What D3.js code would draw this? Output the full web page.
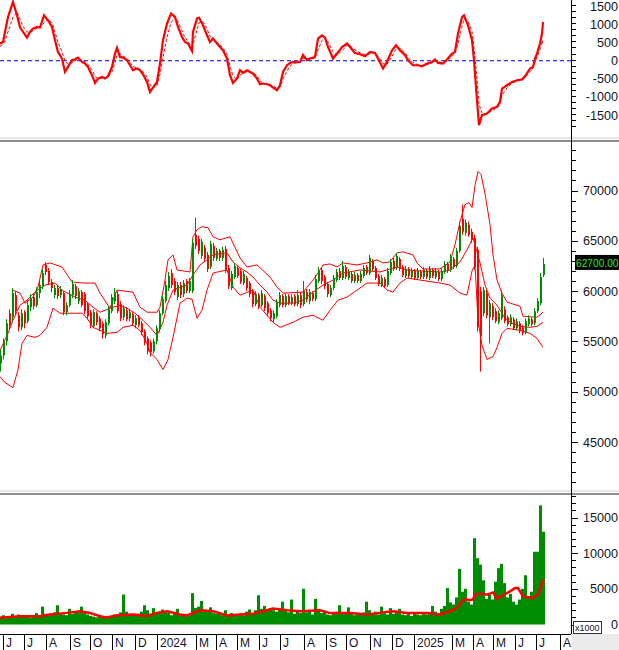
<!DOCTYPE html>
<html><head><meta charset="utf-8">
<script src="https://cdn.jsdelivr.net/npm/d3@7"></script>
<style>body{margin:0;background:#fff}svg{display:block;font-family:"Liberation Sans",Arial,sans-serif}</style>
</head><body><svg id="c" width="619" height="650"></svg>
<script>
// ---------- DATA ----------
const candleStep = 3; // trading-day slots per candle
const open = [
52800,53600,55000,57800,57400,59600,57600,56400,57900,57000,
58400,59400,58600,59800,60500,62600,62000,60900,59600,60300,
59600,59800,57900,58600,59600,60500,59000,59900,59700,58700,
57900,56500,57800,57300,56800,55600,56800,58000,59000,59700,
58700,57400,58100,57300,57700,56600,57400,56800,56000,55300,
54900,54000,55000,56200,57800,59000,60300,61800,61000,59400,
60600,59700,61000,60000,60000,65600,65200,63500,64300,63600,
62400,64500,63200,64000,63300,64200,62300,60300,61400,62300,
62000,60800,61300,60800,60000,58700,59600,58600,59500,58800,
58100,57200,57500,58600,59500,58600,59500,58800,59500,58700,
59600,58700,59900,59000,59800,59200,61000,62100,61400,60700,
59600,60300,61100,62000,61300,62400,61300,61700,61000,61600,
61000,61500,62400,61800,63000,62300,61500,60600,61200,60600,
61800,63000,62300,63200,62400,61500,62200,61400,62000,61300,
61900,61400,62000,61300,62100,61400,61900,61200,61900,62700,
62100,63200,62500,64000,67200,65800,66600,65900,65300,64100,
60000,57800,59800,57400,58500,58000,56900,57300,58200,57400,
56700,57200,56300,56800,56400,55900,56700,57200,56800,58000,58800,61600];
const high = [
54200,55300,57200,58200,60300,60000,57900,58200,58100,59100,
59700,59800,60400,61000,62200,62900,62300,61200,60600,60600,
60500,60000,58900,60100,61100,60700,60300,60100,59900,58900,
58100,58200,58000,57500,57000,57200,58500,59700,60300,60000,
59000,58600,58400,58200,57900,57600,57600,57000,56200,55500,
55100,55300,56600,58100,59600,61000,61900,62200,61300,60900,
60900,61100,61200,61300,65200,67300,65500,65200,64600,63900,
65000,64800,64300,64200,64400,64500,62600,62000,62800,62600,
62200,62000,61500,61000,60200,60000,59800,60100,59700,59000,
58300,58100,59200,59900,59700,59800,59700,59700,59700,60100,
59900,61000,60200,60200,60000,61600,62400,62400,61600,60900,
60600,61600,62200,62300,63000,62600,62200,61900,61900,61800,
62000,62600,62600,63600,63200,62500,61700,61600,61400,62300,
63200,63300,63800,63400,62600,62500,62400,62300,62200,62300,
62100,62400,62200,62500,62300,62300,62100,62300,63000,62900,
63700,63400,64300,66900,68600,67100,66900,66200,65600,64400,
60400,60400,60100,59100,58800,58300,58100,60100,58500,57600,
57700,57400,57300,57000,56600,57300,57600,57400,58300,59300,61800,63300];
const low = [
52000,53200,54600,56200,57000,57600,56000,56100,56300,56800,
58000,58200,58400,59300,60200,61600,60600,59900,59300,59200,
59300,57600,57600,58400,59300,59200,58700,58400,57700,57200,
56300,56300,56600,56000,55300,55300,56600,57800,58700,57800,
57000,57100,57000,57000,56600,56300,56400,55600,54600,53700,
53500,53800,54700,55900,57600,58800,60000,60300,59600,59100,
59300,59400,59800,59800,59800,64200,63700,63200,62900,61900,
62200,63000,63000,63000,63000,61800,60200,60100,61200,61300,
60700,60600,60000,59400,58400,58500,58200,58400,58000,57500,
57000,56900,57300,58400,58400,58400,58600,58600,58500,58500,
58300,58500,58900,58700,59000,59000,60800,60700,60200,59400,
59400,60100,60900,61100,61100,61200,61100,60800,60800,60800,
60800,61300,61600,61600,62000,61100,60500,60400,60300,60400,
61600,62000,62100,62000,61400,61300,61300,61200,61100,61100,
61200,61200,61200,61100,61300,61200,61000,61000,61700,61800,
61900,62200,62300,63800,65600,65500,65400,64800,62100,56000,
52000,57500,57300,54800,57100,56800,56700,57100,56800,56500,
56500,56100,56100,55800,55600,55700,56500,56500,56600,57800,58600,61400];
const close = [
53600,55000,56800,56600,59800,58000,56400,57800,56800,58600,
59300,58500,59900,60600,61800,61900,60900,60300,60300,59500,
60200,57900,58600,59700,60700,59500,60000,58600,58000,57500,
56600,57900,56900,56300,55700,56900,58200,59400,59900,58000,
57300,58300,57200,57900,56800,57300,56600,55900,54900,54000,
53900,55000,56300,57800,59200,60600,61500,60600,59900,60600,
59600,60800,60000,61000,64800,64500,64000,64900,63200,62200,
64700,63300,64000,63300,64100,62000,60500,61700,62500,61500,
60900,61700,60300,59700,58700,59700,58500,59800,58300,57800,
57300,57800,58900,59600,58600,59500,58800,59400,58700,59600,
58600,60000,59200,59900,59200,61200,62000,61000,60500,59700,
60300,61300,61900,61300,62500,61400,61900,61000,61600,61000,
61700,62300,61800,63300,62200,61300,60700,61300,60500,62000,
62900,62200,63500,62200,61600,62200,61500,62000,61300,62000,
61400,62100,61400,62200,61500,62000,61200,62000,62700,62000,
63300,62400,64000,66500,65900,66800,65600,65100,62400,56400,
55500,60100,57600,58800,57400,57000,57800,59600,57000,56700,
57400,56300,57000,56000,55800,57000,57300,56700,58000,59000,61400,62700];
const volume = [ // x1000
1100,1300,900,1200,1500,1000,1400,1200,1100,1300,
1000,1200,1600,1300,2500,1500,1200,1400,1700,2700,
1600,1400,1300,2200,1500,1700,1900,2500,1600,1400,
1200,1100,1000,1300,1100,1000,1200,1100,1400,1300,
1700,4200,1800,1400,1300,1200,1500,1800,2700,2000,
1500,2300,1600,1800,2100,1800,1600,1300,1500,2200,
1300,1200,1400,1300,4400,2300,2500,3300,2100,1900,
2400,1600,1500,1700,1300,2000,1400,1600,1200,1300,
1500,1300,1800,2100,1500,2000,4100,2200,2600,2000,
2300,2000,1800,2100,3200,1900,1700,3500,1500,1800,
1600,5000,1700,1900,1400,3600,2200,1600,1800,1400,
1300,1500,1800,2700,1700,1500,2400,1600,1300,1500,
1400,1700,3200,2000,1500,1800,1400,2500,1600,1400,
2300,1500,1700,2200,1400,1300,1600,1200,1500,1400,
1300,1600,1400,1700,2600,1800,1500,2200,2600,5100,
3100,2800,3800,7800,4600,5000,3200,2800,12100,9300,
8400,6200,3600,4200,3500,6000,7900,8500,5800,3800,
4300,3200,2800,3500,5000,6900,4000,4600,10200,10200,16700,13000];

const upDay = [13,20,25,33,38,43,50,62,72,85,95,100,110,117,133,140,147,157,160,165,168,173,177,190,193,197,202,208,213,220,230,240,247,257,270,277,283,303,313,318,323,330,337,343,357,367,377,383,390,397,403,413,417,423,440,450,455,460,465,469,472,475,478,481,485,490,493,497,502,507,520,523,537,543];
const upVal = [60100,59800,58800,59400,60400,62600,62800,62400,60900,60800,60800,59800,58300,60100,59900,58400,57900,57900,58400,61100,63100,63600,62100,61900,65400,66100,66400,66300,65400,65100,65400,63300,62400,62600,61400,60400,59800,59900,61100,61800,62600,62700,62400,62800,62600,62800,63100,62800,62900,63800,63900,63600,62800,62200,62200,62900,64600,66900,68600,68800,68300,70500,71900,71600,69700,66600,63600,61100,59800,58900,58500,57500,57400,57900];
const midDay = [0,8,13,20,27,35,45,55,62,75,85,93,100,110,120,127,135,143,150,157,163,167,173,180,187,193,200,207,213,227,233,240,247,253,260,267,273,280,293,303,313,323,333,343,360,380,397,407,420,440,450,460,467,473,477,480,485,490,497,505,512,520,530,537,543];
const midVal = [54100,55800,57100,58600,59100,59900,60600,60800,60100,59400,59100,58400,57900,58300,58600,58300,57800,57100,56400,55600,56900,58600,60100,60400,60600,61600,62600,63100,63600,63800,62900,62300,61900,61400,60600,59900,59100,58800,58800,59100,59900,60600,61100,61800,62100,61900,62400,62100,62000,61900,62100,62900,64100,65300,63900,62800,60600,59300,58600,57300,56800,56500,56400,56500,56900];
const lowDay = [0,5,13,18,22,27,35,40,47,53,60,82,87,93,100,107,117,123,133,140,147,150,157,163,168,173,180,187,192,197,202,207,213,227,233,240,253,260,267,273,280,293,303,313,323,330,338,347,357,367,380,387,393,400,407,420,440,450,460,467,472,475,478,482,487,493,497,502,507,520,530,537,543];
const lowVal = [51500,50900,50400,52200,54800,55600,55400,55600,56400,58300,57800,57800,57300,56400,56100,55800,55900,56400,56600,56100,54800,53900,53200,52200,53200,55400,58800,59300,59200,57300,58100,60100,61800,62100,60400,59600,60100,58400,57600,56900,56400,56900,57400,57600,57100,58100,59100,59400,60100,60800,60800,60100,59900,60800,61300,61100,60800,60600,59800,59600,62000,62600,57100,54600,53200,53500,54400,55800,56300,56100,55800,55300,54400];

const volMaDay = [0,20,40,50,67,80,90,100,107,117,133,147,157,167,180,187,200,213,227,240,253,263,273,287,300,320,330,350,367,383,393,407,427,440,450,457,462,465,470,473,475,482,487,493,497,503,510,515,518,523,533,538,542,544];
const volMaVal = [940,1160,1160,1400,1630,1860,1600,1160,1000,1300,1400,1200,1630,1860,1400,1260,2000,1860,1260,1400,1500,1860,2230,2000,1860,2000,1600,1600,1400,1700,1860,1600,1600,1400,1860,2330,3260,3570,3400,3500,4190,4330,4190,4500,3600,4100,4650,5100,5100,3950,3700,4190,5820,6280];

const macdDay = [0,3,5,8,13,17,20,23,27,30,33,37,40,44,48,52,55,58,62,65,68,72,75,78,82,85,88,92,95,98,102,105,108,112,115,117,120,123,127,130,133,137,140,143,147,150,153,157,160,163,167,171,175,178,182,185,188,192,193,197,199,203,207,210,213,217,220,223,227,230,233,237,240,243,247,250,253,257,260,263,267,270,273,277,280,283,287,290,293,297,300,303,307,310,315,318,322,325,328,333,337,342,347,350,355,360,365,370,375,378,383,387,392,396,400,405,408,413,418,422,427,432,435,438,443,447,452,455,458,462,464,468,472,474,477,479,482,487,492,497,500,502,507,512,517,522,525,530,533,535,537,540,542,543];
const macdVal = [475,520,795,1210,1625,1257,934,796,640,796,890,934,917,1257,1119,934,566,243,61,-309,-171,14,41,88,-33,-77,-171,-400,-613,-492,-448,-492,-428,-171,199,354,105,88,14,-124,-262,-215,-262,-373,-586,-862,-740,-586,-77,566,1028,1304,1210,934,657,519,475,271,796,1166,1193,981,704,519,613,475,381,290,61,-400,-613,-492,-262,-337,-262,-309,-354,-492,-649,-630,-649,-677,-740,-815,-677,-309,-124,-61,-33,-41,-33,160,14,61,105,613,704,640,381,61,199,381,475,381,215,180,124,243,215,61,-215,-33,290,428,290,152,14,-124,-124,-152,-77,-33,33,-61,-77,33,199,243,751,1210,1257,981,566,14,-1091,-1782,-1506,-1459,-1320,-1276,-1138,-768,-677,-586,-539,-519,-428,-215,-171,61,199,475,751,1072];
const signalVal = [400,450,550,800,1200,1350,1150,950,800,780,830,900,920,1050,1150,1050,800,500,250,0,-100,-60,0,50,20,-30,-100,-250,-430,-500,-480,-480,-450,-300,-50,150,200,130,60,-40,-160,-200,-240,-300,-450,-650,-760,-680,-380,100,650,1050,1200,1080,830,640,530,380,450,850,1050,1080,880,680,600,530,440,350,180,-150,-420,-520,-400,-350,-300,-300,-330,-420,-560,-620,-640,-660,-700,-760,-730,-500,-280,-150,-80,-50,-40,60,60,40,80,300,560,640,520,250,150,280,420,420,300,220,160,190,220,130,-80,-100,120,320,350,230,90,-50,-110,-140,-110,-60,0,-20,-60,-10,120,210,480,950,1150,1100,800,350,-500,-1200,-1450,-1470,-1380,-1300,-1200,-950,-750,-620,-560,-530,-470,-300,-200,-50,100,320,560,450];

const macdTicks = [1500,1000,500,0,-500,-1000,-1500];
const priceTicks = [70000,65000,60000,55000,50000,45000];
const volTicks = [15000,10000,5000,0];
const monthDay = [3,24,46,70,90,112,135,157,196,216,237,259,280,304,326,346,370,392,414,452,473,493,515,536,560];
const monthLabel = ["J","J","A","S","O","N","D","2024","M","A","M","J","J","A","S","O","N","D","2025","M","A","M","J","J","A"];
const lastPriceLabel = "62700.00";

// ---------- DRAW ----------
const svg = d3.select('#c');
const AX = 571;
const x = d3.scaleLinear().domain([0, 571]).range([0, 571]);
const yM = d3.scaleLinear().domain([-1500, 1500]).range([115, 6.5]);
const yP = d3.scaleLinear().domain([45000, 70000]).range([442, 190.5]);
const yV = d3.scaleLinear().domain([0, 15000]).range([624.5, 517.5]);
const GREEN = '#008c00', RED = '#ff0000';

const defs = svg.append('defs');
[['cm',0,0,AX,137],['cp',0,142,AX,348],['cv',0,495,AX,139]].forEach(([id,a,b,w,h])=>{
  defs.append('clipPath').attr('id',id).append('rect').attr('x',a).attr('y',b).attr('width',w).attr('height',h);
});

// separators
[[137,'#e6e6e6'],[140,'#8c8c8c'],[490,'#e6e6e6'],[493,'#8c8c8c']].forEach(([yy,c])=>{
  svg.append('rect').attr('x',0).attr('y',yy).attr('width',619).attr('height',2).attr('fill',c);
});

// ---- MACD panel ----
const gM = svg.append('g').attr('clip-path','url(#cm)');
gM.append('line').attr('x1',0).attr('x2',AX).attr('y1',yM(0)).attr('y2',yM(0))
  .attr('stroke','#0000ee').attr('stroke-width',1.2).attr('stroke-dasharray','4,3');
const lineM = d3.line().x((d,i)=>x(macdDay[i])).y(d=>yM(d));
gM.append('path').datum(signalVal).attr('d',lineM).attr('fill','none')
  .attr('stroke',RED).attr('stroke-width',1).attr('stroke-dasharray','3,2');
gM.append('path').datum(macdVal).attr('d',lineM).attr('fill','none')
  .attr('stroke',RED).attr('stroke-width',2.2);

// ---- Price panel ----
const gP = svg.append('g').attr('clip-path','url(#cp)');
function band(days, vals){
  gP.append('path').datum(vals).attr('d', d3.line().x((d,i)=>x(days[i])).y(d=>yP(d)))
    .attr('fill','none').attr('stroke',RED).attr('stroke-width',1);
}
band(upDay, upVal); band(midDay, midVal); band(lowDay, lowVal);
const cIdx = d3.range(close.length);
gP.selectAll('rect.w').data(cIdx).join('rect')
  .attr('x', i=>Math.round(x(i*candleStep))).attr('width',1)
  .attr('y', i=>yP(high[i])).attr('height', i=>Math.max(1, yP(low[i])-yP(high[i])))
  .attr('fill', i=>close[i]>=open[i]?GREEN:RED);
gP.selectAll('rect.b').data(cIdx).join('rect')
  .attr('x', i=>Math.round(x(i*candleStep))).attr('width',2)
  .attr('y', i=>yP(Math.max(open[i],close[i])))
  .attr('height', i=>Math.max(1, yP(Math.min(open[i],close[i]))-yP(Math.max(open[i],close[i]))))
  .attr('fill', i=>close[i]>=open[i]?GREEN:RED);

// ---- Volume panel ----
const gV = svg.append('g').attr('clip-path','url(#cv)');
gV.selectAll('rect').data(cIdx).join('rect')
  .attr('x', i=>Math.round(x(i*candleStep))-1).attr('width',3)
  .attr('y', i=>yV(volume[i])).attr('height', i=>yV(0)-yV(volume[i]))
  .attr('fill', GREEN);
gV.append('path').datum(volMaVal).attr('d', d3.line().x((d,i)=>x(volMaDay[i])).y(d=>yV(d)))
  .attr('fill','none').attr('stroke',RED).attr('stroke-width',2.5);

// ---- Right axis ----
svg.append('line').attr('x1',AX+0.5).attr('x2',AX+0.5).attr('y1',0).attr('y2',634).attr('stroke','#000');
const tk = svg.append('g').attr('stroke','#000').attr('stroke-width',1);
d3.range(-1800, 1801, 500/3).forEach(v=>{ const yy=Math.round(yM(v))+0.5; if(yy>0&&yy<136) tk.append('line').attr('x1',AX).attr('x2',AX+5).attr('y1',yy).attr('y2',yy); });
d3.range(41000, 76000, 1000).forEach(v=>{ const yy=Math.round(yP(v))+0.5; if(yy>143&&yy<489) tk.append('line').attr('x1',AX).attr('x2',AX+(v%5000===0?7:5)).attr('y1',yy).attr('y2',yy); });
d3.range(0, 18001, 1000).forEach(v=>{ const yy=Math.round(yV(v))+0.5; if(yy>496&&yy<633) tk.append('line').attr('x1',AX).attr('x2',AX+(v%5000===0?7:5)).attr('y1',yy).attr('y2',yy); });

const lab = svg.append('g').attr('font-size','12.6px').attr('fill','#141428').attr('text-anchor','end');
macdTicks.forEach(v=>lab.append('text').attr('x',618).attr('y',yM(v)+4.5).text(v));
priceTicks.forEach(v=>lab.append('text').attr('x',618).attr('y',yP(v)+4.5).text(v));
volTicks.forEach(v=>lab.append('text').attr('x',618).attr('y',yV(v)+4.5).text(v));

// last price box
svg.append('rect').attr('x',575).attr('y',yP(close[close.length-1])-9).attr('width',44).attr('height',15).attr('fill','#000');
svg.append('text').attr('x',576).attr('y',yP(close[close.length-1])+3).attr('font-size','10.2px')
  .attr('fill','#22ee22').text(lastPriceLabel);

// x1000 box
svg.append('rect').attr('x',573.5).attr('y',621.5).attr('width',28).attr('height',12).attr('fill','#fff').attr('stroke','#333');
svg.append('text').attr('x',575).attr('y',631).attr('font-size','9px').attr('fill','#141428').text('x1000');

// ---- Bottom month axis ----
svg.append('rect').attr('x',AX+1).attr('y',634).attr('width',619-AX-1).attr('height',16).attr('fill','#ebebeb');
svg.append('line').attr('x1',0).attr('x2',AX).attr('y1',634.5).attr('y2',634.5).attr('stroke','#000');
const mx = svg.append('g');
monthDay.forEach((d,i)=>{
  const xx = Math.round(x(d))+0.5;
  mx.append('line').attr('x1',xx).attr('x2',xx).attr('y1',634).attr('y2',650).attr('stroke','#000');
  mx.append('text').attr('x',xx+2.5).attr('y',647).attr('font-size','12px').attr('fill','#141428').text(monthLabel[i]);
});
</script></body></html>
